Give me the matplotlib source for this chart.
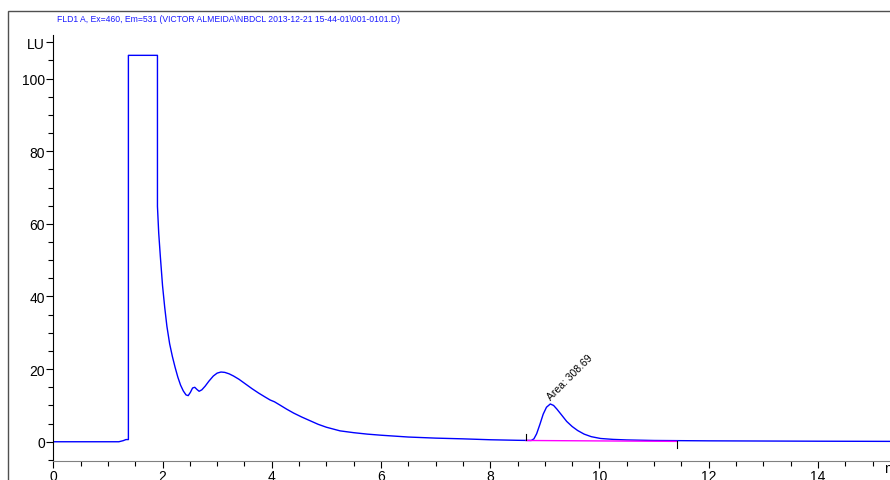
import matplotlib
matplotlib.use("Agg")
import matplotlib.pyplot as plt
from matplotlib.ticker import MultipleLocator, FixedLocator
from matplotlib.patches import Rectangle

# signal trace (min, LU)
t = [0.0, 1.20, 1.28, 1.33, 1.375, 1.375, 1.907, 1.907, 1.93, 1.96, 2.00, 2.04,
     2.08, 2.13, 2.18, 2.23, 2.28, 2.33, 2.38, 2.43, 2.47,
     2.51, 2.55, 2.59, 2.63, 2.67, 2.72, 2.78, 2.85, 2.93, 3.00, 3.07, 3.14, 3.22,
     3.30, 3.40, 3.52, 3.64, 3.76, 3.88, 3.97, 4.05, 4.15, 4.27, 4.40, 4.55,
     4.70, 4.85, 5.0, 5.25, 5.5, 5.75, 6.0, 6.5, 7.0, 7.5,
     8.0, 8.5, 8.75, 8.80, 8.85, 8.91, 8.97, 9.03, 9.10, 9.16, 9.22, 9.30,
     9.40, 9.50, 9.60, 9.72, 9.85, 10.02, 10.25, 10.5, 11.0, 12.0, 13.0, 14.0, 15.4]
lu = [0.0, 0.0, 0.3, 0.6, 0.6, 106.4, 106.4, 64.8, 57.5, 51.0, 43.0, 37.0,
      31.8, 27.0, 23.5, 20.5, 17.8, 15.6, 14.0, 12.9, 12.7,
      13.6, 14.8, 15.0, 14.4, 13.9, 14.3, 15.3, 16.7, 18.1, 18.9, 19.2, 19.1, 18.7,
      18.1, 17.2, 15.9, 14.6, 13.4, 12.3, 11.5, 11.0, 10.1, 9.0, 7.9, 6.8,
      5.8, 4.8, 4.0, 3.0, 2.5, 2.1, 1.8, 1.3, 1.0, 0.8,
      0.55, 0.4, 0.35, 0.8, 2.2, 4.8, 7.6, 9.5, 10.4, 10.0, 9.0, 7.5,
      5.6, 4.2, 3.1, 2.1, 1.4, 0.9, 0.65, 0.5, 0.35, 0.25, 0.2, 0.15, 0.1]

# integration baseline
base_t = [8.66, 11.42]
base_y = [0.35, 0.1]
area_label = "Area: 308.69"
peak_t, peak_y = 9.13, 11.0

title = "FLD1 A, Ex=460, Em=531 (VICTOR ALMEIDA\\NBDCL 2013-12-21 15-44-01\\001-0101.D)"

plt.rcParams['font.family'] = ['Liberation Sans', 'DejaVu Sans']

fig = plt.figure(figsize=(8.9, 4.81), dpi=100)
ax = fig.add_axes([53.3 / 890, 1 - 462 / 481, 1 - 53.3 / 890, (462 - 36) / 481])

# outer frame
fig.patches.append(Rectangle((8 / 890, -0.1), 1.2, 1 - 12 / 481 + 0.1,
                             transform=fig.transFigure, fill=False,
                             edgecolor='#505050', linewidth=1.0))

ax.plot(t, lu, color='#0000ff', lw=1.0)
ax.plot(base_t, base_y, color='#ff00ff', lw=1.0)
ax.plot([base_t[0], base_t[0]], [base_y[0], base_y[0] + 1.8], color='black', lw=0.8)
ax.plot([base_t[1], base_t[1]], [base_y[1], base_y[1] - 1.8], color='black', lw=0.8)
ax.text(peak_t, peak_y, area_label, rotation=45, fontsize=7.5,
        ha='left', va='bottom', rotation_mode='anchor')

ax.set_xlim(0, 15.32)
ax.set_ylim(-5.3, 112)

ax.spines['top'].set_visible(False)
ax.spines['right'].set_visible(False)
ax.spines['bottom'].set_color('#808080')

ax.xaxis.set_major_locator(MultipleLocator(2))
ax.xaxis.set_minor_locator(MultipleLocator(0.5))
ax.yaxis.set_major_locator(FixedLocator([0, 20, 40, 60, 80, 100, 110]))
ax.set_yticklabels(['0', '20', '40', '60', '80', '100', 'LU'])
ax.yaxis.set_minor_locator(MultipleLocator(5))
ax.tick_params(axis='both', which='major', length=5, width=0.8, labelsize=10, pad=1)
ax.tick_params(axis='both', which='minor', length=3.5, width=0.8)

ax.text(15.22, -5.3, "min", fontsize=10, ha='left', va='top', clip_on=False)

fig.text(57 / 890, 1 - 20 / 481, title, color='#1a1aff', fontsize=6.2,
         ha='left', va='center')

fig.savefig("out.png", dpi=100)
